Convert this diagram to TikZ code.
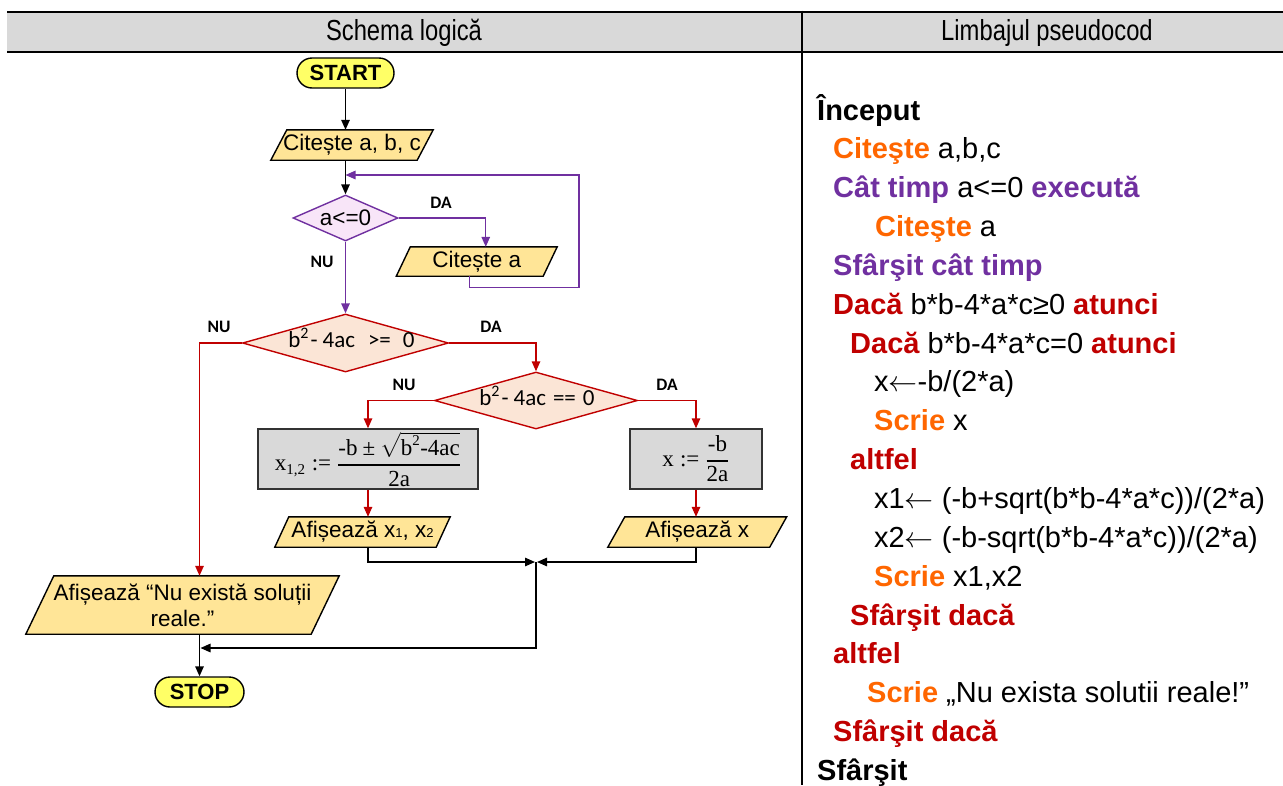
\RequirePackage{fix-cm}
\documentclass[tikz,border=0pt]{standalone}
\usepackage{amsmath}
\usepackage[no-math]{fontspec}
\setmainfont{Liberation Sans}
\newfontfamily\narrowsans[FakeStretch=0.82]{Liberation Sans}
\newfontfamily\calib{Carlito}
\newfontfamily\formfont{Liberation Serif}
\usetikzlibrary{arrows.meta,shapes.geometric,backgrounds,calc}

\definecolor{hdrgray}{HTML}{D9D9D9}
\definecolor{termfill}{HTML}{FFFF66}
\definecolor{iofill}{HTML}{FFE597}
\definecolor{loopfill}{HTML}{F8E5F8}
\definecolor{condfill}{HTML}{FBE5D6}
\definecolor{procfill}{HTML}{D9D9D9}
\definecolor{kwpurple}{HTML}{7030A0}
\definecolor{kwred}{HTML}{C00000}
\definecolor{kworange}{HTML}{FF6600}

\newcommand\flowfont{\fontsize{22.5}{26}\selectfont}
\newcommand\codefont{\fontsize{29}{35}\selectfont}
\newcommand\labfont{\calib\bfseries\fontsize{17.5}{20}\selectfont}
\newcommand\boxmath{\fontsize{22}{26}\selectfont}
\newcommand\fm[1]{\mbox{\formfont\fontsize{23}{26}\selectfont #1}}
\newcommand\fms[1]{\mbox{\formfont\fontsize{15}{15}\selectfont #1}}
\newcommand\subd[1]{{\fontsize{13}{13}\selectfont #1}}
\newcommand\supd[1]{\raisebox{9pt}{\fontsize{16}{16}\selectfont #1}}
\newcommand\kwd[2]{\textcolor{#1}{\bfseries #2}}
\newcommand\assignarrow{\ensuremath{\leftarrow}}

% slanted input/output box drawn behind a text node
\newcommand\iopara[2]{%
  \begin{scope}[on background layer]
    \draw[iobox] ([xshift=-#2]#1.south west) -- ([xshift=-#2]#1.south east)
      -- ([xshift=#2]#1.north east) -- ([xshift=#2]#1.north west) -- cycle;
  \end{scope}}

\tikzset{
  term/.style={draw=black, line width=1.4pt, fill=termfill, rounded corners=15pt,
    minimum width=97pt, minimum height=30pt, inner sep=0pt,
    font=\bfseries\fontsize{22}{26}\selectfont},
  iotext/.style={inner sep=0pt, minimum height=30pt, font=\flowfont, align=center},
  iobox/.style={draw=black, line width=1.4pt, fill=iofill},
  flowtext/.style={inner sep=0pt, font=\flowfont},
  loopdec/.style={diamond, draw=kwpurple, line width=1.4pt, fill=loopfill, inner sep=0pt},
  cond/.style={diamond, draw=kwred, line width=1.4pt, fill=condfill, inner sep=0pt},
  condtext/.style={inner sep=0pt, font=\calib\fontsize{23}{26}\selectfont},
  proc/.style={draw=black!80, line width=1.4pt, fill=procfill, inner sep=0pt,
    minimum height=60pt, font=\boxmath},
  lbl/.style={font=\labfont, inner sep=0pt},
  flow/.style={line width=1.4pt, -{Triangle[length=10pt,width=8.5pt]}},
  code/.style={anchor=base west, inner sep=0pt, font=\codefont},
  hdr/.style={anchor=base, inner sep=0pt, font=\narrowsans\fontsize{29}{34}\selectfont},
}

\begin{document}
\begin{tikzpicture}[x=1pt,y=-1pt]
\useasboundingbox (0,0) rectangle (1283,785);

% table frame and header row
\fill[hdrgray] (7,12.5) rectangle (1283,51);
\draw[line width=2pt] (7,11.5) -- (1283,11.5);
\draw[line width=2.5pt] (7,52) -- (1283,52);
\draw[line width=2pt] (801.5,10.5) -- (801.5,785);
\node[hdr] (h1) at (404,40) {Schema logică};
\node[hdr] (h2) at (1047,40) {Limbajul pseudocod};

% flowchart blocks
\node[term] (start) at (345.5,73) {START};
\node[iotext, minimum width=146pt] (cit) at (352,145) {Citește a, b, c};
\iopara{cit}{8pt}
\node[loopdec, minimum width=105pt, minimum height=46pt] (d1) at (345.5,218) {};
\node[flowtext] (d1t) at (d1.center) {a<=0};
\node[iotext, minimum width=146.5pt, minimum height=29pt] (ca) at (476.75,261.5) {Citește a};
\iopara{ca}{7pt}
\node[cond, minimum width=206pt, minimum height=58pt] (d2) at (345.5,343) {};
\node[condtext, anchor=base] (d2t) at ($(d2.center)+(6,4.7)$)
  {b\supd{2}\hspace{2pt}-\hspace{5pt}4ac\hspace{13pt}>=\hspace{12pt}0};
\node[cond, minimum width=203pt, minimum height=57pt] (d3) at (536,400.5) {};
\node[condtext, anchor=base] (d3t) at ($(d3.center)+(1,5)$)
  {b\supd{2}\hspace{2pt}-\hspace{5pt}4ac\hspace{7pt}==\hspace{7pt}0};
\node[proc, minimum width=220pt] (b1) at (368,459)
  {$\displaystyle \fm{x}_{\fms{1,2}} \mathrel{\fm{:=}}
   \genfrac{}{}{1.6pt}{0}{\fm{-b} \mathbin{\fm{±}} \sqrt{\fm{b}^{\fms{2}}\fm{-4ac}}}{\fm{2a}}$};
\node[proc, minimum width=132pt] (b2) at (696,459)
  {$\displaystyle \fm{x} \mathrel{\fm{:=}} \genfrac{}{}{1.6pt}{0}{\fm{-b}}{\fm{2a}}$};
\node[iotext, minimum width=161pt] (o1) at (362.5,532) {Afișează x\subd{1}, x\subd{2}};
\iopara{o1}{7pt}
\node[iotext, minimum width=161.5pt] (o2) at (697.25,532) {Afișează x};
\iopara{o2}{8.5pt}
\node[iotext, minimum width=285pt, minimum height=58pt] (nosol) at (182.5,605)
  {Afișează “Nu există soluții\\reale.”};
\iopara{nosol}{14pt}
\node[term, minimum width=89pt] (stop) at (199.5,692) {STOP};

% branch labels
\node[lbl] (l1) at (441,203) {DA};
\node[lbl] (l2) at (322,262) {NU};
\node[lbl] (l3) at (219,327) {NU};
\node[lbl] (l4) at (491,327) {DA};
\node[lbl] (l5) at (404,385) {NU};
\node[lbl] (l6) at (667,385) {DA};

% connectors
\coordinate (loopturn) at (579,175);
\coordinate (join) at (536,562);
\coordinate (merge) at (199.5,648);
\draw[flow] (start) -- (start |- cit.north);
\draw[flow] (start |- cit.south) -- (d1.north);
\draw[flow, kwpurple] (d1.east) -| ([xshift=9pt]ca.north);
\draw[flow, kwpurple] ([xshift=-7pt]ca.south) -- ++(0,11) -| (loopturn) -- (loopturn -| d1.north);
\draw[flow, kwpurple] (d1.south) -- (d2.north);
\draw[flow, kwred] (d2.west) -| (stop |- nosol.north);
\draw[flow, kwred] (d2.east) -| (d3.north);
\draw[flow, kwred] (d3.west) -| (b1.north);
\draw[flow, kwred] (d3.east) -| (b2.north);
\draw[flow, kwred] (b1.south) -- (b1.south |- o1.north);
\draw[flow, kwred] (b2.south) -- (b2.south |- o2.north);
\draw[flow] (b1 |- o1.south) |- ([xshift=-1pt]join);
\draw[flow] (b2 |- o2.south) |- ([xshift=1pt]join);
\draw[flow] (join) |- ([xshift=1pt]merge);
\draw[flow] (stop |- nosol.south) -- (stop.north);

% pseudocode column
\node[code] (p1)  at (817,120)    {\textbf{Început}};
\node[code] (p2)  at (833,158.85) {\kwd{kworange}{Citeşte} a,b,c};
\node[code] (p3)  at (833,197.7)  {\kwd{kwpurple}{Cât timp} a<=0 \kwd{kwpurple}{execută}};
\node[code] (p4)  at (875,236.55) {\kwd{kworange}{Citeşte} a};
\node[code] (p5)  at (833,275.4)  {\kwd{kwpurple}{Sfârşit cât timp}};
\node[code] (p6)  at (833,314.25) {\kwd{kwred}{Dacă} b*b-4*a*c≥0 \kwd{kwred}{atunci}};
\node[code] (p7)  at (850,353.1)  {\kwd{kwred}{Dacă} b*b-4*a*c=0 \kwd{kwred}{atunci}};
\node[code] (p8)  at (874,391.95) {x\assignarrow-b/(2*a)};
\node[code] (p9)  at (874,430.8)  {\kwd{kworange}{Scrie} x};
\node[code] (p10) at (850,469.65) {\kwd{kwred}{altfel}};
\node[code] (p11) at (874,508.5)  {x1\assignarrow{} (-b+sqrt(b*b-4*a*c))/(2*a)};
\node[code] (p12) at (874,547.35) {x2\assignarrow{} (-b-sqrt(b*b-4*a*c))/(2*a)};
\node[code] (p13) at (874,586.2)  {\kwd{kworange}{Scrie} x1,x2};
\node[code] (p14) at (850,625.05) {\kwd{kwred}{Sfârşit dacă}};
\node[code] (p15) at (833,663.9)  {\kwd{kwred}{altfel}};
\node[code] (p16) at (867,702.75) {\kwd{kworange}{Scrie} „Nu exista solutii reale!”};
\node[code] (p17) at (833,741.6)  {\kwd{kwred}{Sfârşit dacă}};
\node[code] (p18) at (817,780.45) {\textbf{Sfârşit}};
\end{tikzpicture}
\end{document}
